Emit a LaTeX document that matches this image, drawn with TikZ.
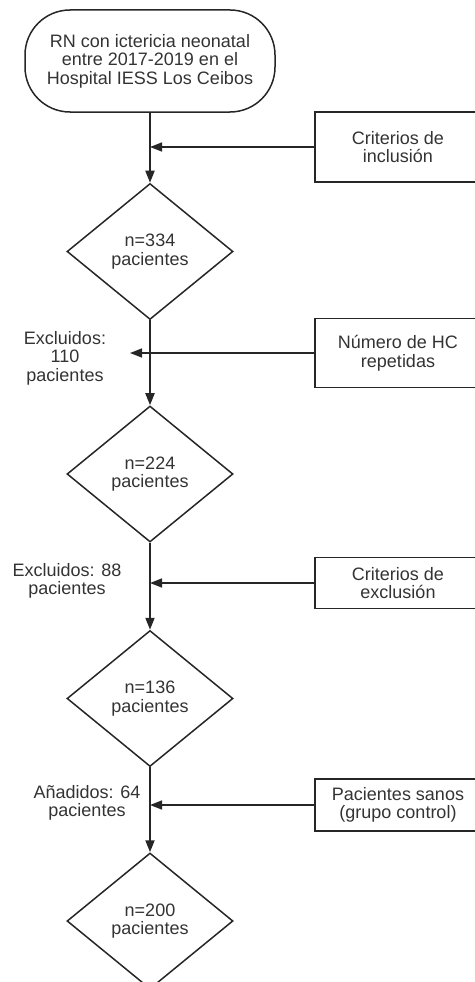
\documentclass[tikz,border=0pt]{standalone}
\usepackage{fontspec}
\setmainfont{Liberation Sans}
\usetikzlibrary{positioning,arrows.meta,shapes.geometric}

\begin{document}
\begin{tikzpicture}[
	x=1pt, y=1pt,
	every node/.style={
		align=center,
		text=black!80,
		font=\fontsize{18}{18.5}\selectfont
	},
	term/.style={draw=black!85, line width=1.5pt, rounded corners=45pt,
		minimum width=250pt, minimum height=102pt},
	dec/.style={draw=black!85, line width=1.5pt, diamond, inner sep=0pt,
		minimum width=166pt, minimum height=136pt},
	crit/.style={draw=black!85, line width=1.5pt, minimum width=166pt},
	arrow/.style={-{Triangle[length=12pt,width=9pt]}, draw=black!85, line width=2pt},
	side/.style={-{Triangle[length=12pt,width=9pt]}, draw=black!85, line width=1.5pt}
	]
	
	\useasboundingbox (0,0) rectangle (474,-982);
	
	\node[term] (start) at (150,-61) {RN con ictericia neonatal\\entre 2017-2019 en el\\Hospital IESS Los Ceibos};
	\node[dec, below=70pt of start] (d1) {n=334\\pacientes};
	\node[dec, below=85pt of d1] (d2) {n=224\\pacientes};
	\node[dec, below=87pt of d2] (d3) {n=136\\pacientes};
	\node[dec, below=85pt of d3] (d4) {n=200\\pacientes};
	
	\node[crit, minimum height=70pt] (c1) at (398,-147) {Criterios de\\inclusión};
	\node[crit, minimum height=69pt] (c2) at (398,-353) {Número de HC\\repetidas};
	\node[crit, minimum height=51pt] (c3) at (398,-583) {Criterios de\\exclusión};
	\node[crit, minimum height=52pt] (c4) at (398,-805) {Pacientes sanos\\(grupo control)};
	
	\node (ex1) at (65,-358) {Excluidos:\\110\\pacientes};
	\node (ex2) at (67,-581) {Excluidos: 88\\pacientes};
	\node (an) at (87,-803) {Añadidos: 64\\pacientes};
	\coordinate (e2) at (130,-353);
	
	\draw[arrow] (start) -- (d1);
	\draw[arrow] (d1) -- (d2);
	\draw[arrow] (d2) -- (d3);
	\draw[arrow] (d3) -- (d4);
	
	\draw[side] (c1) -- (c1 -| d1);
	\draw[side] (c2) -- (e2);
	\draw[side] (c3) -- (c3 -| d1);
	\draw[side] (c4) -- (c4 -| d1);
	
\end{tikzpicture}
\end{document}
